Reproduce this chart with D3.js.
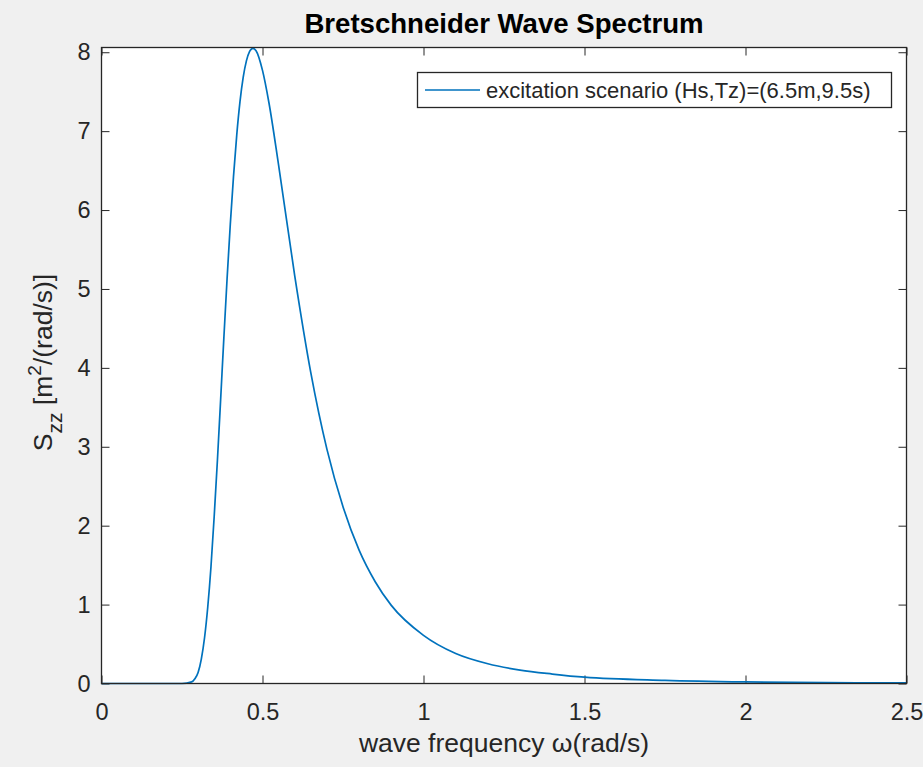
<!DOCTYPE html>
<html>
<head>
<meta charset="utf-8">
<script src="https://cdn.jsdelivr.net/npm/d3@7"></script>
<style>
    body { margin: 0; background: #f0f0f0; }
    svg { display: block; font-family: "Liberation Sans", Arial, sans-serif; }
    .tickText { font-size: 23.5px; fill: #262626; }
    .axisLabel { font-size: 26.5px; fill: #262626; }
</style>
</head>
<body>
<div id="chart"></div>
<script>
// wave frequency (rad/s) and spectral density
const omega = [0, 0.1, 0.2, 0.25, 0.28, 0.29, 0.30, 0.31, 0.32, 0.33, 0.34, 0.35, 0.36, 0.37, 0.38, 0.39,
    0.40, 0.41, 0.42, 0.43, 0.44, 0.45, 0.46, 0.47, 0.48, 0.50, 0.52, 0.55, 0.60, 0.65, 0.70, 0.75,
    0.80, 0.85, 0.90, 1.0, 1.1, 1.2, 1.3, 1.4, 1.5, 1.75, 2.0, 2.25, 2.5];
const szz = [0, 0, 0, 0, 0.02, 0.06, 0.14, 0.31, 0.58, 0.97, 1.48, 2.12, 2.83, 3.60, 4.38, 5.13,
    5.82, 6.43, 6.95, 7.37, 7.68, 7.89, 8.01, 8.05, 8.02, 7.77, 7.36, 6.57, 5.17, 3.94, 2.97, 2.24,
    1.69, 1.29, 0.99, 0.61, 0.38, 0.25, 0.17, 0.12, 0.08, 0.04, 0.02, 0.01, 0.007];

const xTicks = [0, 0.5, 1, 1.5, 2, 2.5];
const yTicks = [0, 1, 2, 3, 4, 5, 6, 7, 8];
const xDomain = [0, 2.5];
const yDomain = [0, 8.06];

const titleText = "Bretschneider Wave Spectrum";
const legendText = "excitation scenario (Hs,Tz)=(6.5m,9.5s)";

class SpectrumChart{
    constructor(parentSelector){
        this.parent = d3.select(parentSelector);
        this.wSvg = 923;
        this.hSvg = 767;
        this.box = {left: 101.5, right: 906.5, top: 47.5, bottom: 683.5};
        this.axisColor = "#262626";
        this.lineColor = "#0072BD";
        this.init();
    }

    init(){
        this.svg = this.parent.append("svg")
            .attr("width", this.wSvg)
            .attr("height", this.hSvg);

        this.xScale = d3.scaleLinear().domain(xDomain).range([this.box.left, this.box.right]);
        this.yScale = d3.scaleLinear().domain(yDomain).range([this.box.bottom, this.box.top]);

        this.svg.append("rect")
            .attr("x", this.box.left).attr("y", this.box.top)
            .attr("width", this.box.right - this.box.left)
            .attr("height", this.box.bottom - this.box.top)
            .attr("fill", "#fff");

        this.renderAxes();
        this.renderLine();
        this.renderBox();
        this.renderLabels();
        this.renderLegend();
    }

    renderAxes(){
        const tickLen = 8;
        const b = this.box;

        // bottom + top ticks, labels only on bottom
        this.svg.append("g")
            .attr("transform", `translate(0, ${b.bottom})`)
            .call(d3.axisBottom(this.xScale).tickValues(xTicks).tickSize(-tickLen).tickPadding(20).tickFormat(d3.format("")))
            .call(g => g.select(".domain").remove())
            .call(g => g.selectAll("line").attr("stroke", this.axisColor))
            .call(g => g.selectAll("text").classed("tickText", true).attr("font-family", null).attr("font-size", null).attr("fill", null));

        this.svg.append("g")
            .attr("transform", `translate(0, ${b.top})`)
            .call(d3.axisTop(this.xScale).tickValues(xTicks).tickSize(-tickLen).tickFormat(""))
            .call(g => g.select(".domain").remove())
            .call(g => g.selectAll("line").attr("stroke", this.axisColor));

        this.svg.append("g")
            .attr("transform", `translate(${b.left}, 0)`)
            .call(d3.axisLeft(this.yScale).tickValues(yTicks).tickSize(-tickLen).tickPadding(11))
            .call(g => g.select(".domain").remove())
            .call(g => g.selectAll("line").attr("stroke", this.axisColor))
            .call(g => g.selectAll("text").classed("tickText", true).attr("font-family", null).attr("font-size", null).attr("fill", null));

        this.svg.append("g")
            .attr("transform", `translate(${b.right}, 0)`)
            .call(d3.axisRight(this.yScale).tickValues(yTicks).tickSize(-tickLen).tickFormat(""))
            .call(g => g.select(".domain").remove())
            .call(g => g.selectAll("line").attr("stroke", this.axisColor));
    }

    renderLine(){
        const points = omega.map((w, i) => ({w: w, s: szz[i]}));
        const line = d3.line()
            .x(d => this.xScale(d.w))
            .y(d => this.yScale(d.s))
            .curve(d3.curveMonotoneX);

        this.svg.append("path")
            .datum(points)
            .attr("d", line)
            .attr("fill", "none")
            .attr("stroke", this.lineColor)
            .attr("stroke-width", 1.7);
    }

    renderBox(){
        const b = this.box;
        this.svg.append("rect")
            .attr("x", b.left).attr("y", b.top)
            .attr("width", b.right - b.left)
            .attr("height", b.bottom - b.top)
            .attr("fill", "none")
            .attr("stroke", this.axisColor)
            .attr("stroke-width", 1.3);
    }

    renderLabels(){
        const b = this.box;
        const cx = (b.left + b.right) / 2;

        this.svg.append("text")
            .attr("x", cx).attr("y", 33)
            .attr("text-anchor", "middle")
            .attr("font-size", 27.6)
            .attr("font-weight", "bold")
            .attr("fill", "#000")
            .text(titleText);

        this.svg.append("text")
            .classed("axisLabel", true)
            .attr("x", cx).attr("y", 752)
            .attr("text-anchor", "middle")
            .text("wave frequency \u03C9(rad/s)");

        const yLab = this.svg.append("text")
            .classed("axisLabel", true)
            .attr("text-anchor", "middle")
            .attr("transform", `translate(52, ${(b.top + b.bottom) / 2 - 3}) rotate(-90)`);
        yLab.append("tspan").text("S");
        yLab.append("tspan").attr("dy", 10).attr("font-size", 21).text("zz");
        yLab.append("tspan").attr("dy", -10).text(" [m");
        yLab.append("tspan").attr("dy", -11).attr("font-size", 19).text("2");
        yLab.append("tspan").attr("dy", 11).text("/(rad/s)]");
    }

    renderLegend(){
        const lg = this.svg.append("g").classed("legend", true);
        lg.append("rect")
            .attr("x", 417.5).attr("y", 72.5)
            .attr("width", 474).attr("height", 35)
            .attr("fill", "#fff")
            .attr("stroke", this.axisColor)
            .attr("stroke-width", 1.3);
        lg.append("line")
            .attr("x1", 425).attr("x2", 480)
            .attr("y1", 90).attr("y2", 90)
            .attr("stroke", this.lineColor)
            .attr("stroke-width", 1.7);
        lg.append("text")
            .attr("x", 486).attr("y", 98)
            .attr("font-size", 22)
            .attr("fill", "#262626")
            .text(legendText);
    }
}

new SpectrumChart("#chart");
</script>
</body>
</html>
